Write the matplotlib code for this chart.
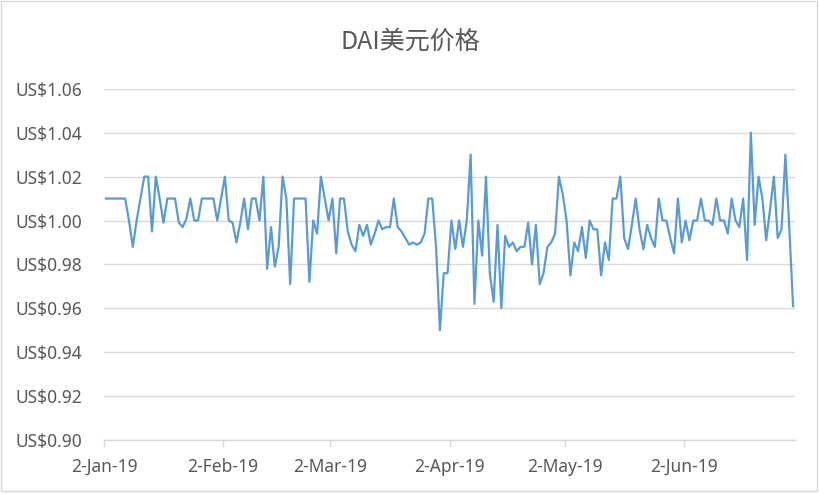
import pandas as pd
import numpy as np
import matplotlib
matplotlib.use("Agg")
import matplotlib.pyplot as plt
from matplotlib.ticker import FixedLocator, FuncFormatter
from matplotlib.patches import Rectangle

# --- DATA ---
START_DATE = '2019-01-02'
price = [
    1.010, 1.010, 1.010, 1.010, 1.010, 1.010, 1.000, 0.988, 1.000, 1.010,
    1.020, 1.020, 0.995, 1.020, 1.010, 0.999, 1.010, 1.010, 1.010, 0.999,
    0.997, 1.001, 1.010, 1.000, 1.000, 1.010, 1.010, 1.010, 1.010, 1.000,
    1.010, 1.020, 1.000, 0.999, 0.990, 0.999, 1.010, 0.996, 1.010, 1.010,
    1.000, 1.020, 0.978, 0.997, 0.979, 0.988, 1.020, 1.010, 0.971, 1.010,
    1.010, 1.010, 1.010, 0.972, 1.000, 0.994, 1.020, 1.010, 1.000, 1.010,
    0.985, 1.010, 1.010, 0.995, 0.989, 0.986, 0.998, 0.993, 0.998, 0.989,
    0.994, 1.000, 0.996, 0.997, 0.997, 1.010, 0.997, 0.995, 0.992, 0.989,
    0.990, 0.989, 0.990, 0.994, 1.010, 1.010, 0.988, 0.950, 0.976, 0.976,
    1.000, 0.987, 1.000, 0.988, 1.000, 1.030, 0.962, 1.000, 0.984, 1.020,
    0.976, 0.963, 0.998, 0.960, 0.993, 0.988, 0.990, 0.986, 0.988, 0.988,
    0.999, 0.980, 0.998, 0.971, 0.976, 0.988, 0.990, 0.994, 1.020, 1.012,
    1.000, 0.975, 0.990, 0.986, 0.997, 0.983, 1.000, 0.996, 0.996, 0.975,
    0.990, 0.982, 1.010, 1.010, 1.020, 0.992, 0.987, 0.998, 1.010, 0.996,
    0.987, 0.998, 0.992, 0.988, 1.010, 1.000, 1.000, 0.992, 0.985, 1.010,
    0.990, 1.000, 0.991, 1.000, 1.000, 1.010, 1.000, 1.000, 0.998, 1.010,
    1.000, 1.000, 0.994, 1.010, 1.000, 0.997, 1.010, 0.982, 1.040, 0.998,
    1.020, 1.010, 0.991, 1.005, 1.020, 0.992, 0.996, 1.030, 0.997, 0.961,
]
tick_dates = ['2019-01-02', '2019-02-02', '2019-03-02', '2019-04-02', '2019-05-02', '2019-06-02']
tick_labels = ['2-Jan-19', '2-Feb-19', '2-Mar-19', '2-Apr-19', '2-May-19', '2-Jun-19']
y_ticks = [0.90, 0.92, 0.94, 0.96, 0.98, 1.00, 1.02, 1.04, 1.06]
title = 'DAI美元价格'

# --- STYLE ---
LINE_COLOR = '#5B9BD5'
GRID_COLOR = '#D9D9D9'
TEXT_COLOR = '#595959'
plt.rcParams['font.family'] = ['Noto Sans', 'Noto Sans CJK SC', 'DejaVu Sans']

dates = pd.date_range(START_DATE, periods=len(price), freq='D')
# Excel date axis puts each point in the middle of its day slot
x = dates + pd.Timedelta(hours=12)

fig = plt.figure(figsize=(8.2, 4.94), dpi=100)
ax = fig.add_axes([104 / 820, 1 - 440 / 494, (795 - 104) / 820, (440 - 88.8) / 494])

ax.plot(x, price, color=LINE_COLOR, lw=1.6, solid_joinstyle='round', zorder=3)

ax.set_xlim(dates[0], dates[-1] + pd.Timedelta(days=1))
ax.set_ylim(y_ticks[0], y_ticks[-1])

ax.yaxis.set_major_locator(FixedLocator(y_ticks))
ax.yaxis.set_major_formatter(FuncFormatter(lambda v, p: f"US${v:.2f}"))
ax.grid(axis='y', color=GRID_COLOR, lw=1.0, zorder=0)
ax.set_axisbelow(True)

ax.set_xticks(pd.to_datetime(tick_dates))
ax.set_xticklabels(tick_labels)

for side in ['top', 'right', 'left']:
    ax.spines[side].set_visible(False)
ax.spines['bottom'].set_color(GRID_COLOR)
ax.spines['bottom'].set_linewidth(1.0)

ax.tick_params(axis='x', colors=TEXT_COLOR, labelsize=12.5, length=5, width=1.0,
               color=GRID_COLOR, pad=8)
ax.tick_params(axis='y', colors=TEXT_COLOR, labelsize=12.5, length=0, pad=16)

fig.text(0.5, 1 - 42 / 494, title, ha='center', va='center', fontsize=18,
         color=TEXT_COLOR, family=['Noto Sans CJK SC', 'DejaVu Sans'])

# chart area border
fig.patches.append(Rectangle((1 / 820, 3 / 494), 816 / 820, 490 / 494, transform=fig.transFigure,
                             fill=False, edgecolor=GRID_COLOR, lw=1.0))

fig.savefig('out.png', dpi=100, facecolor='white')
